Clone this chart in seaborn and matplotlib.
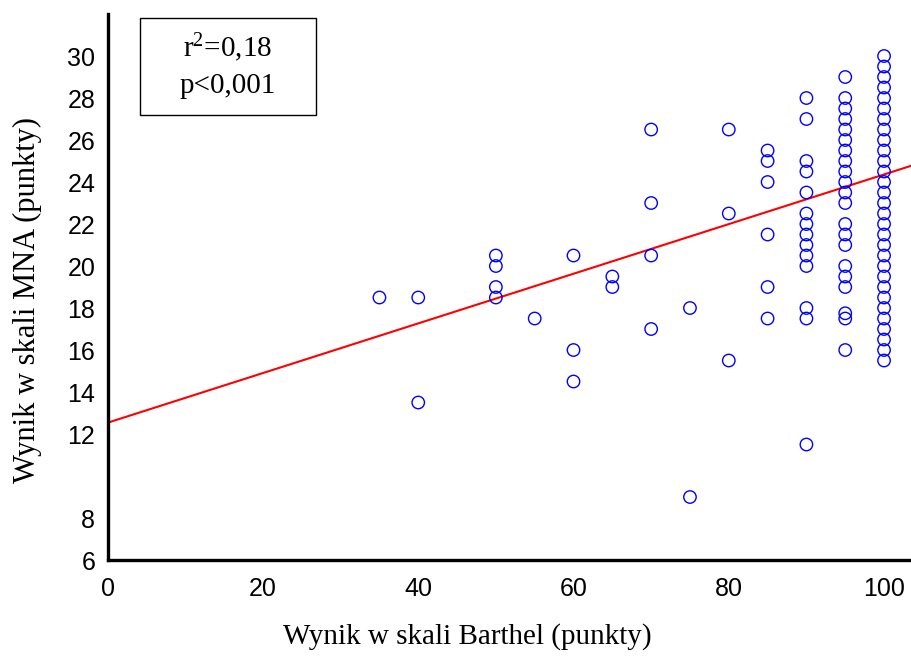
import matplotlib
matplotlib.use("Agg")
import matplotlib.pyplot as plt
from matplotlib.patches import Rectangle
import seaborn as sns
import pandas as pd

# Barthel index (x) and MNA score (y) for each patient
barthel = (
    [35]
    + [40] * 2
    + [50] * 4
    + [55]
    + [60] * 3
    + [65] * 2
    + [70] * 4
    + [75] * 2
    + [80] * 3
    + [85] * 6
    + [90] * 14
    + [95] * 21
    + [100] * 30
)
mna = [
    18.5,
    18.5, 13.5,
    20.5, 20.0, 19.0, 18.5,
    17.5,
    20.5, 16.0, 14.5,
    19.5, 19.0,
    26.5, 23.0, 20.5, 17.0,
    18.0, 9.0,
    26.5, 22.5, 15.5,
    25.5, 25.0, 24.0, 21.5, 19.0, 17.5,
    28.0, 27.0, 25.0, 24.5, 23.5, 22.5, 22.0, 21.5, 21.0, 20.5, 20.0, 18.0, 17.5, 11.5,
    29.0, 28.0, 27.5, 27.0, 26.5, 26.0, 25.5, 25.0, 24.5, 24.0, 23.5, 23.0, 22.0,
    21.5, 21.0, 20.0, 19.5, 19.0, 17.75, 17.5, 16.0,
    30.0, 29.5, 29.0, 28.5, 28.0, 27.5, 27.0, 26.5, 26.0, 25.5, 25.0, 24.5, 24.0,
    23.5, 23.0, 22.5, 22.0, 21.5, 21.0, 20.5, 20.0, 19.5, 19.0, 18.5, 18.0, 17.5,
    17.0, 16.5, 16.0, 15.5,
]

# fitted regression line
intercept = 12.54
slope = 0.1182

x_ticks = [0, 20, 40, 60, 80, 100]
y_ticks = [6, 8, 10, 12, 14, 16, 18, 20, 22, 24, 26, 28, 30]
y_ticklabels = ["6", "8", "", "12", "14", "16", "18", "20", "22", "24", "26", "28", "30"]

stats_lines = ["r$^2$=0,18", "p<0,001"]
x_label = "Wynik w skali Barthel (punkty)"
y_label = "Wynik w skali MNA (punkty)"

sns.set_theme(style="white")
plt.rcParams["font.family"] = ["Liberation Sans", "DejaVu Sans"]
plt.rcParams["mathtext.fontset"] = "custom"
plt.rcParams["mathtext.rm"] = "Liberation Serif"
plt.rcParams["mathtext.it"] = "Liberation Serif:italic"

df = pd.DataFrame({"barthel": barthel, "mna": mna})

fig = plt.figure(figsize=(9.12, 6.58), dpi=100)
ax = fig.add_axes([0.1181, 0.1489, 0.8819, 0.8298])

sns.scatterplot(
    data=df, x="barthel", y="mna", ax=ax,
    s=80, marker="o", facecolor="none", edgecolor="#0000ff",
    linewidth=1.0, zorder=3,
)
ax.axline((0, intercept), slope=slope, color="#ff0000", lw=1.5, zorder=2)

ax.set_xlim(0, 103.6)
ax.set_ylim(6, 32)
ax.set_xticks(x_ticks)
ax.set_xticklabels([str(t) for t in x_ticks])
ax.set_yticks(y_ticks)
ax.set_yticklabels(y_ticklabels)
ax.tick_params(axis="both", direction="in", length=4, width=2, color="black",
               labelsize=18, labelcolor="black")
ax.tick_params(axis="y", pad=9)
ax.tick_params(axis="x", pad=12)

for side in ("top", "right"):
    ax.spines[side].set_visible(False)
for side in ("left", "bottom"):
    ax.spines[side].set_color("black")
    ax.spines[side].set_linewidth(2.4)

serif = ["Liberation Serif", "DejaVu Serif"]
ax.set_xlabel(x_label, family=serif, fontsize=21, color="black")
ax.set_ylabel(y_label, family=serif, fontsize=22, color="black")
ax.xaxis.set_label_coords(0.4465, -0.141)
ax.xaxis.label.set_va("center")
ax.yaxis.set_label_coords(-0.0995, 0.476)
ax.yaxis.label.set_va("center")

# statistics box
ax.add_patch(Rectangle((0.0398, 0.815), 0.2190, 0.1777, transform=ax.transAxes,
                       facecolor="white", edgecolor="black", lw=1.0, zorder=4))
ax.text(0.149, 0.921, stats_lines[0], transform=ax.transAxes, ha="center",
        va="baseline", family=serif, fontsize=21, color="black", zorder=5)
ax.text(0.149, 0.855, stats_lines[1], transform=ax.transAxes, ha="center",
        va="baseline", family=serif, fontsize=21, color="black", zorder=5)

fig.savefig("out.png", dpi=100, facecolor="white")
